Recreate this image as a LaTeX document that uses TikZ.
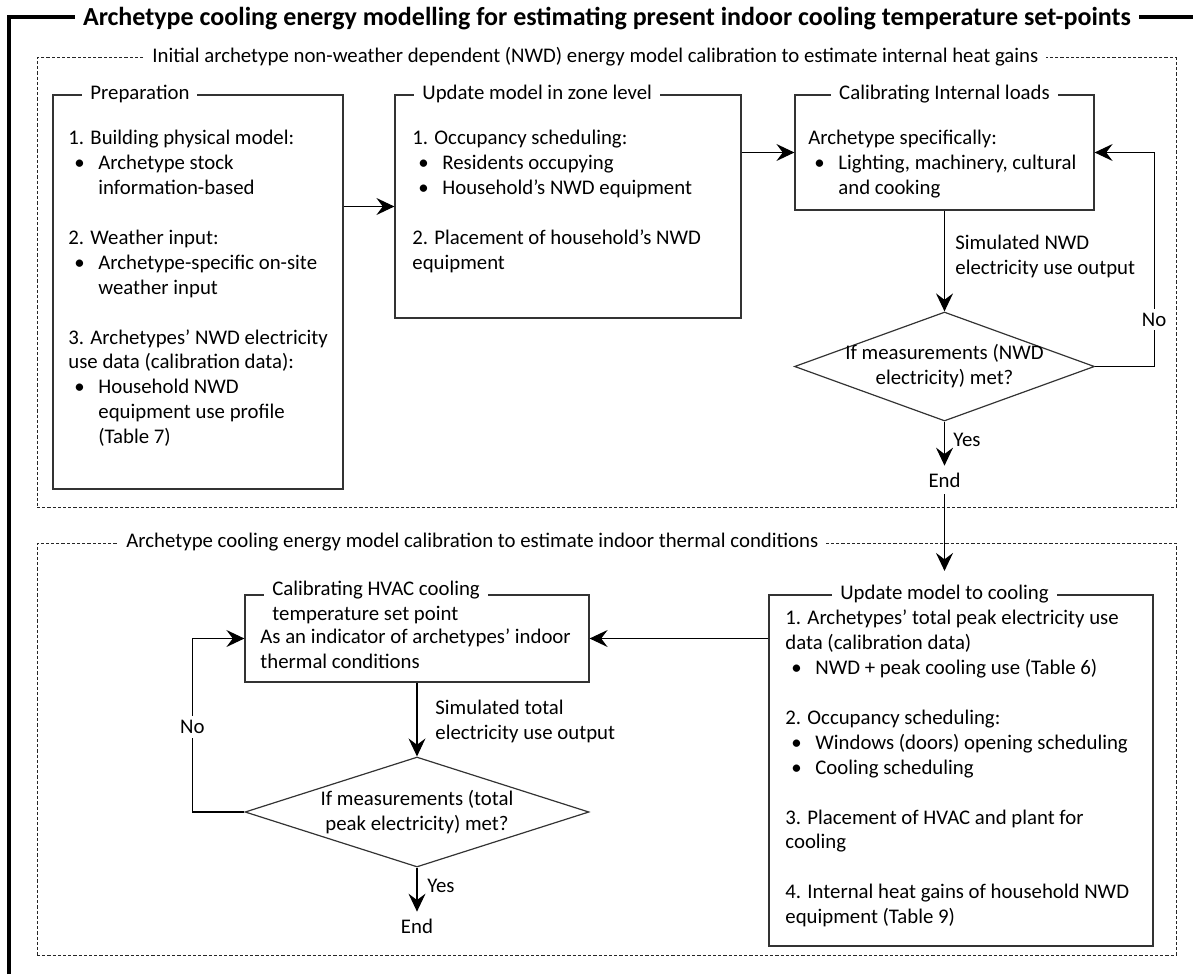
\documentclass[tikz,border=0pt]{standalone}
\usepackage{fontspec}
\setmainfont{Carlito}
\usetikzlibrary{arrows.meta,fit,shapes.geometric}
\newcommand{\itm}{\hspace*{3pt}\makebox[12pt][l]{\textbullet}}
\newcommand{\cnt}{\hspace*{15pt}}

\begin{document}
\begin{tikzpicture}[x=0.5pt,y=-0.5pt,font=\fontsize{10.4}{12.45}\selectfont,
    box/.style={draw=black!80,line width=0.6pt,inner sep=0pt},
    grp/.style={draw=black!85,line width=0.5pt,dash pattern=on 1.6pt off 1pt,inner sep=0pt},
    ttl/.style={fill=white,inner xsep=4pt,inner ysep=1pt,anchor=mid west},
    txt/.style={align=left,anchor=north west,inner sep=0pt},
    dia/.style 2 args={diamond,draw=black!80,line width=0.6pt,inner sep=0pt,minimum width=#1,minimum height=#2},
    arr/.style={-{Stealth[length=9pt,width=8.5pt,inset=3.2pt]},line width=0.6pt},
    yn/.style={fill=white,inner sep=2pt}]
  \useasboundingbox (0,0) rectangle (1193,974);
  \draw[line width=1.6pt] (9,974) -- (9,17) -- (1193,17);
  \node[fill=white,inner xsep=4pt,font=\fontsize{13}{15}\selectfont\bfseries] (head) at (607,19)
    {Archetype cooling energy modelling for estimating present indoor cooling temperature set-points};
  \foreach \n/\xa/\ya/\xb/\yb in {grp1/37/58/1176/507,grp2/37/543/1176/955} {
    \node[grp,fit={(\xa,\ya) (\xb,\yb)}] (\n) {};
  }
  \foreach \n/\xa/\ya/\xb/\yb in {prep/53/95/343/489,zone/395/95/741/318,calib/795/95/1094/210,
      hvac/245/595/589/682,cool/769/595/1153/946} {
    \node[box,fit={(\xa,\ya) (\xb,\yb)}] (\n) {};
  }
  \node[ttl] (tgrp1) at (144,58) {Initial archetype non-weather dependent (NWD) energy model calibration to estimate internal heat gains};
  \node[ttl] (tgrp2) at (118,543) {Archetype cooling energy model calibration to estimate indoor thermal conditions};
  \node[ttl] (tprep) at (82,95) {Preparation};
  \node[ttl] (tzone) at (414,95) {Update model in zone level};
  \node[ttl,anchor=mid] (tcalib) at (944.5,95) {Calibrating Internal loads};
  \node[ttl,anchor=mid] (tcool) at (944.5,595) {Update model to cooling};
  \node[ttl,anchor=north west,inner ysep=0pt,align=left] (thvac) at (264,578)
    {\strut Calibrating HVAC cooling\\temperature set point};

  \node[txt] (bprep) at (68,127) {\strut 1. Building physical model:\\
    \itm Archetype stock\\
    \cnt information-based\\[12.45pt]
    2. Weather input:\\
    \itm Archetype-specific on-site\\
    \cnt weather input\\[12.45pt]
    3. Archetypes’ NWD electricity\\
    use data (calibration data):\\
    \itm Household NWD\\
    \cnt equipment use profile\\
    \cnt (Table 7)};
  \node[txt] (bzone) at (412,127) {\strut 1. Occupancy scheduling:\\
    \itm Residents occupying\\
    \itm Household’s NWD equipment\\[12.45pt]
    2. Placement of household’s NWD\\
    equipment};
  \node[txt] (bcalib) at (808,127) {\strut Archetype specifically:\\
    \itm Lighting, machinery, cultural\\
    \cnt and cooking};
  \node[txt] (bcool) at (785,607) {\strut 1. Archetypes’ total peak electricity use\\
    data (calibration data)\\
    \itm NWD + peak cooling use (Table 6)\\[12.45pt]
    2. Occupancy scheduling:\\
    \itm Windows (doors) opening scheduling\\
    \itm Cooling scheduling\\[12.45pt]
    3. Placement of HVAC and plant for\\
    cooling\\[12.45pt]
    4. Internal heat gains of household NWD\\
    equipment (Table 9)};
  \node[txt] (bhvac) at (260,626) {\strut As an indicator of archetypes’ indoor\\thermal conditions};

  \draw[arr] (prep.east |- zone.west) -- (zone.west);
  \draw[arr] (zone.east |- calib.west) -- (calib.west);
  \node[dia={150pt}{54.5pt}] (d1) at (944.5,366.5) {};
  \node[align=center] (q1) at (d1) {If measurements (NWD\\electricity) met?};
  \draw[arr] (calib.south) -- (d1.north);
  \node[txt] (sim1) at (955,232) {\strut Simulated NWD\\electricity use output};
  \draw[arr] (d1.east) -- ++(59,0) |- (calib.east) node[yn,pos=0.11] {No};
  \node (end1) at (944.5,480) {End};
  \draw[arr] (d1.south) -- (end1.north);
  \node[anchor=mid west,inner sep=0pt] (yes1) at (953,442) {Yes};
  \draw[arr] (end1.south) -- ([yshift=6pt]tcool.north);

  \draw[arr] (cool.west |- hvac.east) -- (hvac.east);
  \node[dia={172pt}{55pt}] (d2) at (417,812) {};
  \node[align=center] (q2) at (d2) {If measurements (total\\peak electricity) met?};
  \draw[arr] (hvac.south) -- (d2.north);
  \node[txt] (sim2) at (435,697) {\strut Simulated total\\electricity use output};
  \draw[arr] (d2.west) -- ++(-52,0) |- (hvac.west) node[yn,pos=0.245] {No};
  \node (end2) at (417,926) {End};
  \draw[arr] (d2.south) -- (end2.north);
  \node[anchor=mid west,inner sep=0pt] (yes2) at (427,888) {Yes};
\end{tikzpicture}
\end{document}
